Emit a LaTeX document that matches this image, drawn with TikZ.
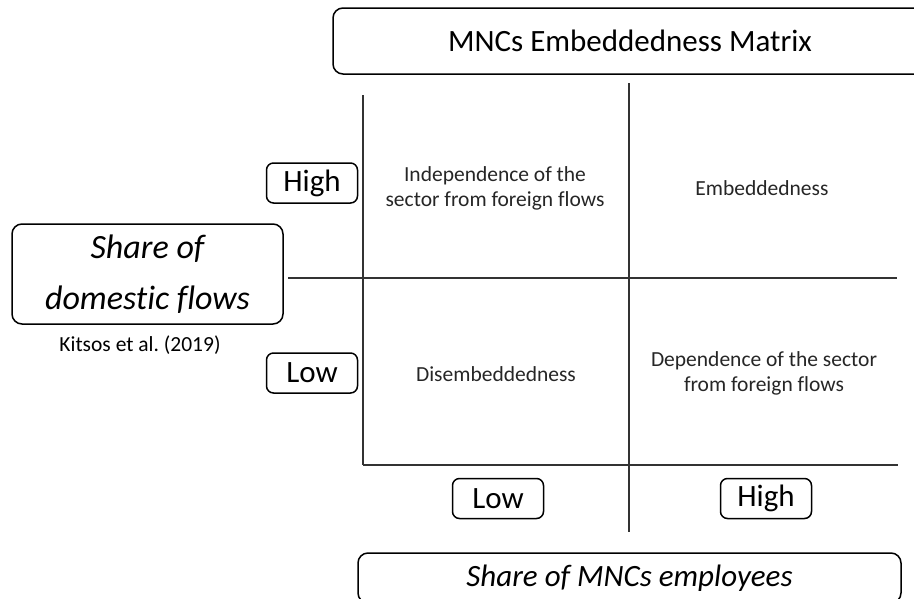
\documentclass[tikz,border=0pt]{standalone}
\usepackage{fontspec}
\setmainfont{Carlito}[Ligatures=NoCommon]
\frenchspacing
\begin{document}
\begin{tikzpicture}[x=1pt, y=-1pt,
  bigbox/.style={draw, line width=1.5pt, rounded corners=10pt, inner sep=0pt, align=center},
  lvlbox/.style={draw, line width=1.5pt, rounded corners=7pt, inner sep=0pt, minimum width=91pt, minimum height=40pt, font=\fontsize{31}{36}\selectfont},
  cell/.style={align=center, inner sep=0pt, font=\fontsize{21.5}{25}\selectfont, text=black!85},
  axis/.style={line width=1.1pt, black!80}]
\useasboundingbox (0,0) rectangle (914,598);
\node[bigbox, minimum width=594pt, minimum height=66pt, font=\fontsize{31}{36}\selectfont] (title) at (630,41) {MNCs Embeddedness Matrix};
\node[bigbox, minimum width=271pt, minimum height=100pt, font=\fontsize{34}{51}\selectfont\itshape] (ydom) at (147.5,274) {Share of\\domestic flows};
\node[font=\fontsize{21.5}{25}\selectfont, inner sep=0pt] (cite) at (140,345) {Kitsos et al. (2019)};
\node[bigbox, minimum width=543pt, minimum height=50pt, font=\fontsize{31}{36}\selectfont\itshape] (xmnc) at (629.5,578) {Share of MNCs employees};
\node[lvlbox] (yhigh) at (312,183) {High};
\node[lvlbox] (ylow) at (312,373) {Low};
\node[lvlbox] (xlow) at (498,498.5) {Low};
\node[lvlbox] (xhigh) at (766,498.5) {High};
\node[cell] (c11) at (495,188) {Independence of the\\sector from foreign flows};
\node[cell] (c12) at (762,188) {Embeddedness};
\node[cell] (c21) at (496,374) {Disembeddedness};
\node[cell] (c22) at (764,373) {Dependence of the sector\\from foreign flows};
\coordinate (v1top) at (363,95);
\coordinate (v1bot) at (363,465);
\coordinate (v2top) at (629,83);
\coordinate (v2bot) at (629,532);
\coordinate (h1left) at (288,278);
\coordinate (h1right) at (897,278);
\coordinate (h2right) at (898,465);
\draw[axis](v1top) -- (v1bot);
\draw[axis](v2top) -- (v2bot);
\draw[axis](h1left) -- (h1right);
\draw[axis](v1bot) -- (h2right);
\end{tikzpicture}
\end{document}
